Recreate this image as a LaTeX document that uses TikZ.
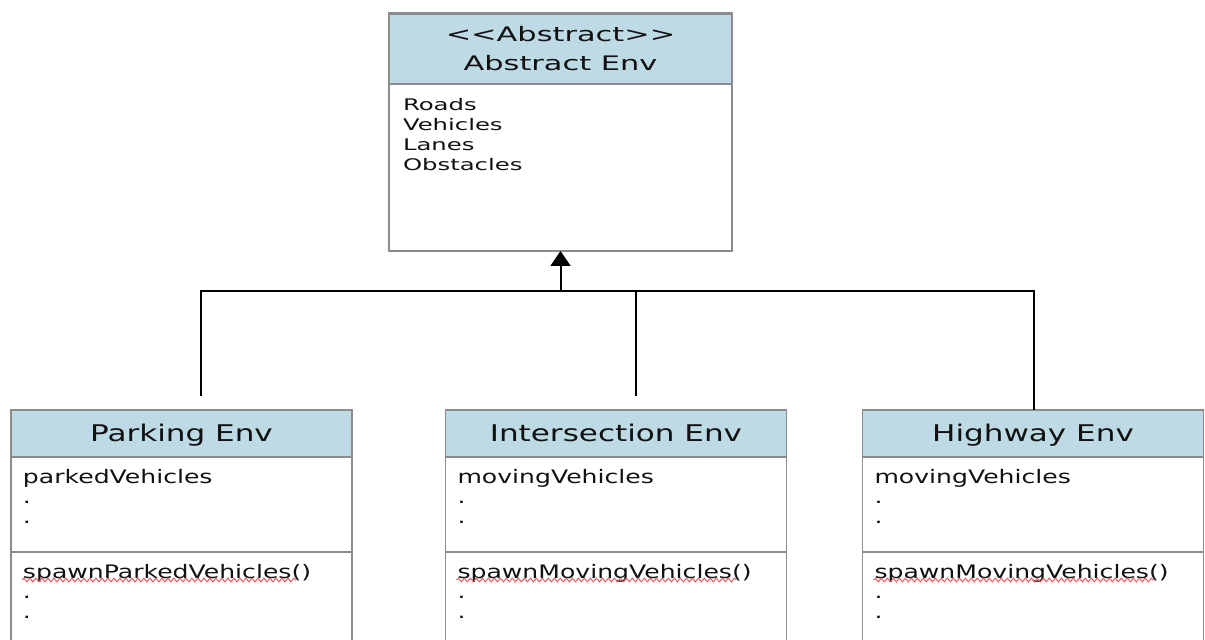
\documentclass[tikz,border=0pt]{standalone}
\usepackage{fontspec}
\setmainfont{DejaVu Sans}[FakeStretch=1.35]
\newfontfamily\topfont{DejaVu Sans}[FakeStretch=1.52]
\usepackage[dvipsnames]{xcolor}
\usetikzlibrary{arrows, arrows.meta}
\usetikzlibrary{positioning}
\usetikzlibrary{calc}
\usetikzlibrary{decorations.pathmorphing}

\definecolor{hdblue}{RGB}{190,218,228}
\definecolor{boxgray}{RGB}{140,140,140}
\definecolor{spellred}{RGB}{228,92,92}
\definecolor{inkblack}{RGB}{17,17,17}

\tikzset{
  hdr/.style={draw=boxgray, fill=hdblue, line width=0.75pt, minimum width=170.5pt, minimum height=23.5pt, inner sep=0pt, outer sep=0pt, text=inkblack},
  title/.style={hdr, font=\fontsize{11.5}{14}\selectfont, text height=8.4pt, text depth=0pt},
  cell/.style={draw=boxgray, fill=white, line width=0.75pt, minimum width=170.5pt, inner sep=0pt, outer sep=0pt},
  lines/.style={anchor=north west, inner sep=0pt, align=left, text=inkblack, font=\fontsize{9.3}{10.1}\selectfont},
  spell/.style={spellred, line width=0.5pt, decorate, decoration={snake, amplitude=0.9pt, segment length=3pt}},
}

\begin{document}
\begin{tikzpicture}[x=0.5pt, y=-0.5pt, line width=1pt]
  \useasboundingbox (0,0) rectangle (1205,640);
  \clip (0,0) rectangle (1205,640);

  % abstract class
  \node[cell, minimum width=171.5pt, minimum height=119pt] (absbox) at (560.5,132) {};
  \node[hdr, minimum width=171.5pt, minimum height=35pt, align=center, font=\topfont\fontsize{10}{14.5}\selectfont] (abshd) at (560.5,49) {<{}<Abstract>{}>\\Abstract Env};
  \node[lines, font=\topfont\fontsize{8}{10}\selectfont] (absattr) at ([shift={(13,13)}]abshd.south west) {Roads\\Vehicles\\Lanes\\Obstacles};

  % parking
  \node[title] (parkhd) at (181.5,433.5) {Parking Env};
  \node[cell, minimum height=47.5pt, below=0pt of parkhd] (parkat) {};
  \node[cell, minimum height=54pt, below=0pt of parkat] (parkop) {};
  \node[lines] (parkattxt) at ([shift={(11,11)}]parkat.north west) {parkedVehicles\\.\\.};
  \node[lines] (parkoptxt) at ([shift={(11,11)}]parkop.north west) {spawnParkedVehicles()\\.\\.};
  \draw[spell] ([shift={(0,17)}]parkoptxt.north west) -- ++(274,0);

  % intersection
  \node[title] (interhd) at (616,433.5) {Intersection Env};
  \node[cell, minimum height=47.5pt, below=0pt of interhd] (interat) {};
  \node[cell, minimum height=54pt, below=0pt of interat] (interop) {};
  \node[lines] (interattxt) at ([shift={(11,11)}]interat.north west) {movingVehicles\\.\\.};
  \node[lines] (interoptxt) at ([shift={(11,11)}]interop.north west) {spawnMovingVehicles()\\.\\.};
  \draw[spell] ([shift={(0,17)}]interoptxt.north west) -- ++(280,0);

  % highway
  \node[title] (highhd) at (1033,433.5) {Highway Env};
  \node[cell, minimum height=47.5pt, below=0pt of highhd] (highat) {};
  \node[cell, minimum height=54pt, below=0pt of highat] (highop) {};
  \node[lines] (highattxt) at ([shift={(11,11)}]highat.north west) {movingVehicles\\.\\.};
  \node[lines] (highoptxt) at ([shift={(11,11)}]highop.north west) {spawnMovingVehicles()\\.\\.};
  \draw[spell] ([shift={(0,17)}]highoptxt.north west) -- ++(280,0);

  % inheritance
  \coordinate (j) at (560.5,291);
  \coordinate (pkend) at (201,396);
  \coordinate (inend) at (636,396);
  \coordinate (hwend) at ([shift={(1,0)}]highhd.north);
  \draw (pkend) |- (hwend |- j) -- (hwend);
  \draw (inend) -- (inend |- j);
  \draw[-{Triangle[width=10pt,length=7.5pt]}] (j) -- (absbox.south);
\end{tikzpicture}
\end{document}
